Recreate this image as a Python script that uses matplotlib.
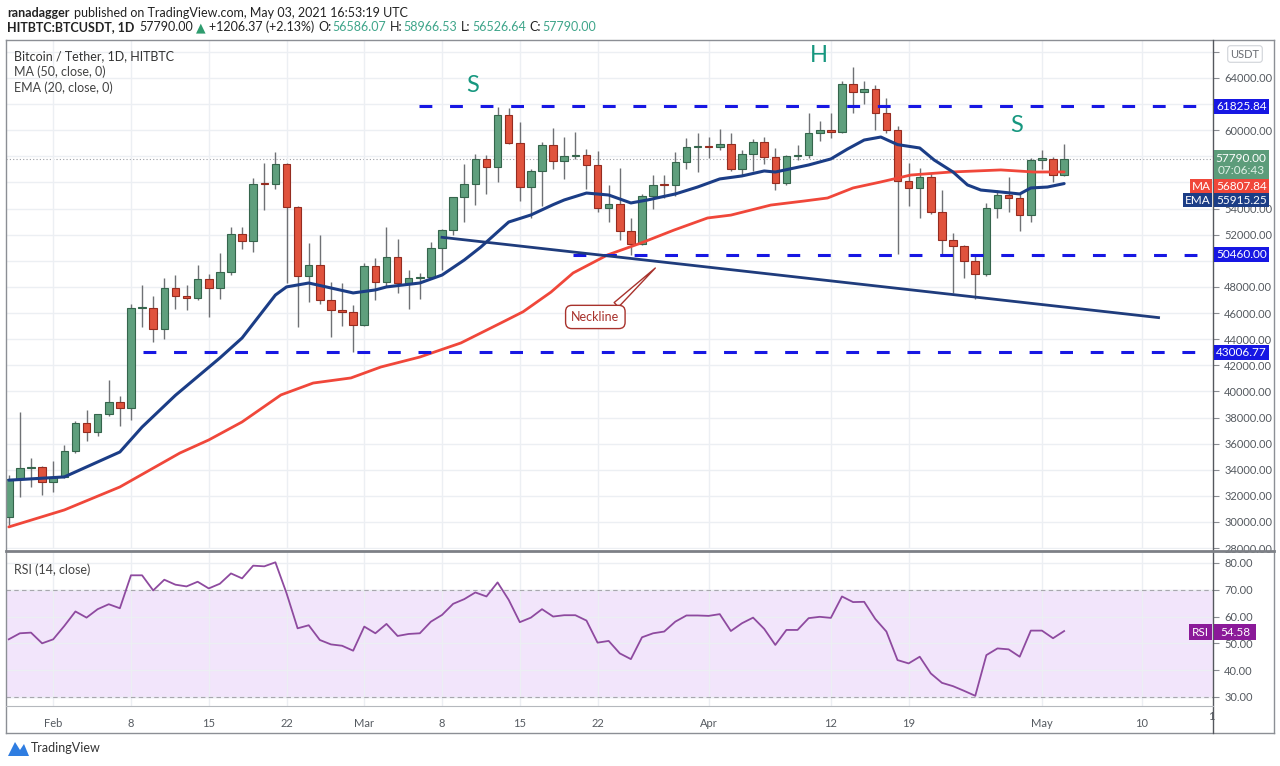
import numpy as np
import pandas as pd
import matplotlib
matplotlib.use('Agg')
import matplotlib.pyplot as plt
from matplotlib import font_manager
from matplotlib.patches import Rectangle, Polygon
from matplotlib.lines import Line2D
from matplotlib.ticker import FuncFormatter

# pick a narrow font if we have one
names = {f.name for f in font_manager.fontManager.ttflist}
base = 'Liberation Sans Narrow' if 'Liberation Sans Narrow' in names else 'Lato'
plt.rcParams['font.family'] = [base, 'DejaVu Sans']

# ---- data ----
dates = pd.date_range('2021-01-28', '2021-05-03', freq='D')

opens = [30370, 33300, 34150, 34230, 33050, 33450, 35400, 37600, 36900, 38250,
         39150, 38750, 46350, 46420, 44800, 47950, 47300, 47150, 48600, 47900,
         49150, 52050, 51500, 55900, 55850, 57400, 54100, 48850, 49700, 47000,
         46200, 46050, 45050, 49600, 48350, 50300, 48300, 48700, 48780, 50980,
         52350, 54880, 55850, 57800, 57200, 61190, 59000, 55650, 56900, 58900,
         57650, 58030, 58100, 57350, 54080, 54340, 52300, 51300, 55000, 55800,
         55780, 57600, 58700, 58730, 58720, 58950, 57050, 58200, 59100, 57950,
         55950, 58050, 58130, 59790, 60000, 59870, 63550, 62950, 63150, 61330,
         60000, 56150, 55600, 56450, 53700, 51600, 51100, 50000, 49000, 54050,
         55050, 54800, 53500, 57750, 57800, 56586]
highs = [33600, 38450, 34900, 34300, 34700, 35900, 37700, 38600, 38300, 40900,
         39650, 46700, 48150, 47300, 48700, 48950, 48150, 49700, 49000, 50600,
         52600, 52600, 56350, 57500, 58350, 57500, 54200, 51400, 52000, 48400,
         48300, 46600, 49800, 50200, 52600, 51700, 49300, 49100, 51450, 52400,
         54900, 57400, 58150, 58100, 61800, 61700, 60600, 57000, 59100, 60200,
         59500, 59900, 58600, 58400, 55800, 57100, 53300, 55100, 56600, 56550,
         58350, 59400, 59800, 59500, 60100, 59800, 58500, 59300, 59500, 58650,
         58100, 58900, 61300, 60700, 61300, 63800, 64850, 63800, 63500, 62500,
         60300, 57500, 57100, 56700, 55450, 52100, 51200, 50500, 54400, 55400,
         56400, 55100, 57900, 58500, 57950, 58966]
lows = [29800, 31900, 32700, 32100, 32300, 33400, 35300, 36200, 36600, 38100,
        37350, 37800, 44900, 43750, 44000, 46300, 46200, 47000, 45700, 47100,
        48900, 50900, 50700, 53900, 55500, 48300, 44900, 46850, 46700, 44200,
        45000, 43000, 45000, 47000, 48100, 47500, 46300, 47100, 48700, 49300,
        52000, 53000, 54300, 55100, 56000, 58950, 54600, 53300, 54200, 57000,
        56300, 57800, 55500, 53700, 53000, 51600, 50450, 51200, 53950, 54800,
        55000, 57000, 56800, 57900, 58500, 56900, 56600, 56900, 57400, 55400,
        55800, 57700, 57900, 59200, 59400, 59800, 61300, 62000, 60000, 59800,
        50500, 54200, 53300, 53600, 50500, 47500, 48700, 47100, 48800, 53300,
        53700, 52300, 53000, 57000, 56050, 56526]
closes = [33300, 34150, 34230, 33050, 33450, 35400, 37600, 36900, 38250, 39150,
          38750, 46350, 46420, 44800, 47950, 47300, 47150, 48600, 47900, 49150,
          52050, 51500, 55900, 55850, 57400, 54100, 48850, 49700, 47000, 46200,
          46050, 45050, 49600, 48350, 50300, 48300, 48700, 48780, 50980, 52350,
          54880, 55850, 57800, 57200, 61190, 59000, 55650, 56900, 58900, 57650,
          58030, 58100, 57350, 54080, 54340, 52300, 51300, 55000, 55800, 55780,
          57600, 58700, 58730, 58720, 58950, 57050, 58200, 59100, 57950, 55950,
          58050, 58130, 59790, 60000, 59870, 63550, 62950, 63150, 61330, 60000,
          56150, 55600, 56450, 53700, 51600, 51100, 50000, 49000, 54050, 55050,
          54800, 53500, 57750, 57800, 56600, 57790]

# EMA(20) and MA(50), sampled at day index
ema_days = [0, 5, 10, 12, 15, 19, 21, 24, 25, 27, 29, 31, 33, 34, 37, 39, 41, 42.5,
            44, 45, 47, 49, 50, 52, 54, 56, 57.5, 60, 62, 64, 66, 68, 69, 72, 74,
            75.5, 77, 78.5, 80, 82, 83.3, 85, 86.3, 87.5, 89.3, 91, 92, 93.5, 95]
ema_vals = [33200, 33450, 35360, 37270, 39700, 42560, 44090, 47380, 48000, 48300,
            47920, 47540, 47770, 48000, 48300, 48910, 50060, 51060, 52210, 52970,
            53510, 54300, 54660, 55190, 55040, 54430, 54660, 55120, 55650, 56270,
            56500, 56880, 56800, 57340, 57800, 58560, 59250, 59480, 58900, 58640,
            57720, 56800, 55810, 55420, 55270, 55120, 55580, 55650, 55915]
ma_days = [0, 5, 10, 15.4, 18, 21, 24.5, 27.4, 30.8, 33.5, 37, 40.7, 44.3, 46.3,
           48.8, 50.8, 53.9, 56.9, 59.9, 62.9, 65, 68.6, 71.6, 73.7, 76, 78.5,
           81.2, 84.8, 89.3, 92.3, 95]
ma_vals = [29620, 30920, 32680, 35280, 36280, 37660, 39730, 40640, 41030, 41870,
           42630, 43710, 45240, 46100, 47600, 49070, 50450, 51360, 52360, 53280,
           53500, 54270, 54580, 54810, 55580, 56040, 56570, 56800, 56960, 56800,
           56808]

rsi_vals = [51.5, 53.75, 54, 50, 51.5, 56.5, 61.9, 59.6, 62.75, 64.6,
            63.1, 75.4, 75.4, 69.75, 73.75, 71.9, 71.25, 73, 70.5, 72.25,
            76.1, 74.25, 79, 78.75, 80.25, 68.75, 55.6, 56.75, 51.25, 49.6,
            49.1, 47.25, 56.25, 53.75, 57.25, 52.75, 53.5, 53.75, 58.1, 60.6,
            64.75, 66.5, 69, 67.5, 72.75, 66.25, 57.9, 59.6, 62.75, 60,
            60.5, 60.5, 58.5, 50.25, 50.9, 46.25, 44.1, 52.25, 53.75, 54.4,
            58.1, 60.4, 60.4, 60.25, 60.9, 54.6, 57.5, 59.6, 55.4, 49.4,
            55, 55, 59.4, 59.9, 59.5, 67.5, 65.4, 65.5, 59.1, 54.4,
            43.75, 42.5, 45, 38.75, 35.25, 34, 32.25, 30.4, 45.6, 48.1,
            47.75, 45, 54.75, 54.75, 51.9, 54.58]

levels = [61825.84, 50460.00, 43006.77]
level_start = [36.9, 50.8, 12.1]
neck_days = [39, 103.5]
neck_vals = [51800, 45650]
last_price = 57790.00

price_ticks = list(range(28000, 66001, 2000))
hidden_ticks = [66000, 62000, 58000, 56000, 50000]   # sit under the scale badges
tick_days = [4, 11, 18, 25, 32, 39, 46, 53, 63, 74, 81, 93, 102]
tick_labels = ['Feb', '8', '15', '22', 'Mar', '8', '15', '22', 'Apr', '12', '19', 'May', '10']

# ---- figure ----
W, H = 1280, 766
fig = plt.figure(figsize=(W / 100, H / 100), dpi=100)
fig.patch.set_facecolor('white')

def fx(px):
    return px / W

def fy(py):
    return 1 - py / H

ax = fig.add_axes([fx(6), fy(549), fx(1213) - fx(6), fy(40) - fy(549)])
rax = fig.add_axes([fx(6), fy(706), fx(1213) - fx(6), fy(552) - fy(706)], sharex=ax)

up_fill, up_edge = '#5f9f7d', '#35654c'
dn_fill, dn_edge = '#e0533d', '#952c20'
wick = '#6f7175'
grid_c = '#eceff3'
lbl_c = '#555a60'
blue_lvl = '#1717e3'
ema_c = '#1b3d86'
ma_c = '#f0473a'
teal = '#16977f'

x = np.arange(len(dates))
o = np.array(opens); c = np.array(closes)
bull = c >= o
body_lo = np.minimum(o, c)
body_h = np.maximum(np.abs(c - o), 90)

ax.vlines(x, lows, highs, color=wick, lw=1, zorder=2)
ax.bar(x, body_h, bottom=body_lo, width=0.68,
       color=np.where(bull, up_fill, dn_fill),
       edgecolor=np.where(bull, up_edge, dn_edge), lw=0.8, zorder=3)

ax.plot(ma_days, ma_vals, color=ma_c, lw=2.0, zorder=4, solid_capstyle='round')
ax.plot(ema_days, ema_vals, color=ema_c, lw=2.2, zorder=5, solid_capstyle='round')
ax.plot(neck_days, neck_vals, color='#1f3c7c', lw=2.0, zorder=5)

xmax = 108.4
for lv, st in zip(levels, level_start):
    ax.plot([st, xmax], [lv, lv], color=blue_lvl, lw=2.2, dashes=(4.2, 5.8), zorder=4)
ax.axhline(last_price, color='#9a9ca3', lw=0.8, ls=(0, (1, 2)), zorder=1)

ax.set_xlim(-0.25, xmax)
ax.set_ylim(27930, 66910)
ax.set_yticks(price_ticks)
ax.yaxis.set_major_formatter(FuncFormatter(
    lambda v, p: '' if round(v) in hidden_ticks else f'{v:.2f}'))
ax.set_xticks(tick_days)
ax.grid(True, color=grid_c, lw=1, zorder=0)
ax.tick_params(axis='y', left=False, labelleft=False, right=True, labelright=True,
               length=4, color='#8a8d93', labelsize=8, labelcolor=lbl_c, pad=4)
ax.tick_params(axis='x', bottom=False, labelbottom=False)
for s in ax.spines.values():
    s.set_visible(False)

# pattern labels
ax.text(41.8, 63460, 'S', color=teal, fontsize=17, ha='center', va='center', zorder=6)
ax.text(72.9, 65750, 'H', color=teal, fontsize=17, ha='center', va='center', zorder=6)
ax.text(90.7, 60400, 'S', color=teal, fontsize=17, ha='center', va='center', zorder=6)

ax.annotate('Neckline', xy=(58.2, 49450), xytext=(52.8, 45700), color='#a8322c',
            fontsize=9, ha='center', va='center', zorder=7,
            bbox=dict(boxstyle='round,pad=0.45,rounding_size=0.5', fc='white', ec='#a8322c', lw=1),
            arrowprops=dict(arrowstyle='wedge,tail_width=0.5', fc='white', ec='#a8322c',
                            lw=1, relpos=(0.8, 1.0), shrinkA=0, shrinkB=0))

# ---- RSI panel ----
rax.axhspan(30, 70, color='#f2e5fb', zorder=0)
for lv in (30, 70):
    rax.axhline(lv, color='#a7a7ad', lw=0.8, ls=(0, (4, 3)), zorder=1)
rax.plot(x, rsi_vals, color='#8e4a9f', lw=1.3, zorder=3)
rax.set_ylim(26.6, 84.1)
rax.set_yticks(np.arange(30, 81, 10))
rax.yaxis.set_major_formatter(FuncFormatter(lambda v, p: f'{v:.2f}'))
rax.set_xticks(tick_days)
rax.set_xticklabels(tick_labels)
rax.grid(True, color=grid_c, lw=1, zorder=0)
rax.set_axisbelow(True)
rax.tick_params(axis='y', left=False, labelleft=False, right=True, labelright=True,
                length=4, color='#8a8d93', labelsize=8, labelcolor=lbl_c, pad=4)
rax.tick_params(axis='x', bottom=False, labelbottom=True, labelsize=8,
                labelcolor=lbl_c, pad=5)
for s in rax.spines.values():
    s.set_visible(False)

# ---- frame lines ----
def fline(x0, y0, x1, y1, c='#8c8f95', lw=1.0):
    fig.add_artist(Line2D([fx(x0), fx(x1)], [fy(y0), fy(y1)], color=c, lw=lw))

fline(6, 40, 1274, 40)
fline(6, 40, 6, 733)
fline(6, 733, 1274, 733)
fline(1274, 40, 1274, 733)
fline(1213, 40, 1213, 733, c='#55585e')
fline(6, 550.5, 1274, 550.5, c='#7d8086', lw=2.0)
fline(6, 706, 1213, 706, c='#b5b8bd', lw=0.8)
fig.text(fx(1211), fy(717), '1', fontsize=8, color=lbl_c, ha='center', va='center')

# ---- price scale badges ----
def badge(x0, x1, y0, y1, color, text, fs=8.5):
    fig.add_artist(Rectangle((fx(x0), fy(y1)), fx(x1) - fx(x0), fy(y0) - fy(y1),
                             transform=fig.transFigure, fc=color, ec='none', zorder=10))
    fig.text(fx((x0 + x1) / 2), fy((y0 + y1) / 2), text, color='white', fontsize=fs,
             ha='center', va='center', zorder=11)

badge(1214, 1269, 99, 114, blue_lvl, '61825.84')
badge(1214, 1269, 150, 179, '#5c9c7a', '')
fig.text(fx(1241), fy(158), '57790.00', color='white', fontsize=8.5, ha='center', va='center', zorder=11)
fig.text(fx(1241), fy(171), '07:06:43', color='#dff0e6', fontsize=8.5, ha='center', va='center', zorder=11)
badge(1190, 1212, 179, 193, ma_c, 'MA')
badge(1214, 1269, 179, 193, ma_c, '56807.84')
badge(1183, 1212, 193, 207, ema_c, 'EMA')
badge(1214, 1269, 193, 207, ema_c, '55915.25')
badge(1214, 1269, 247, 262, blue_lvl, '50460.00')
badge(1214, 1269, 345, 360, blue_lvl, '43006.77')
badge(1189, 1212, 624, 640, '#8b1a99', 'RSI')
badge(1214, 1256, 624, 640, '#8b1a99', '54.58')

fig.text(fx(1245), fy(54), 'USDT', color='#6a6d73', fontsize=8, ha='center', va='center', zorder=12,
         bbox=dict(boxstyle='round,pad=0.25', fc='white', ec='#d0d3d8', lw=0.8))

# ---- legend text in panes ----
fig.text(fx(14), fy(56), 'Bitcoin / Tether, 1D, HITBTC', fontsize=9, color='#333', va='center')
fig.text(fx(14), fy(72), 'MA (50, close, 0)', fontsize=9, color='#444', va='center')
fig.text(fx(14), fy(88), 'EMA (20, close, 0)', fontsize=9, color='#444', va='center')
fig.text(fx(14), fy(570), 'RSI (14, close)', fontsize=9, color='#444', va='center')

# ---- header ----
renderer = fig.canvas.get_renderer()

def chain(px, py, parts, fs=9):
    for s, col, wt, gap in parts:
        t = fig.text(fx(px), fy(py), s, color=col, fontweight=wt, fontsize=fs, va='center', ha='left')
        px += t.get_window_extent(renderer=renderer).width + gap

num_c = '#3fa58a'
chain(7, 13, [('ranadagger', '#222', 'bold', 4),
              ('published on TradingView.com, May 03, 2021 16:53:19 UTC', '#222', 'normal', 0)])
chain(7, 27, [('HITBTC:BTCUSDT, 1D', '#222', 'bold', 5),
              ('57790.00', '#222', 'normal', 3),
              ('\u25b2', '#2e9c6e', 'normal', 3),
              ('+1206.37 (+2.13%)', '#222', 'normal', 4),
              ('O:', '#222', 'normal', 1), ('56586.07', num_c, 'normal', 4),
              ('H:', '#222', 'normal', 1), ('58966.53', num_c, 'normal', 4),
              ('L:', '#222', 'normal', 1), ('56526.64', num_c, 'normal', 4),
              ('C:', '#222', 'normal', 1), ('57790.00', num_c, 'normal', 0)])

# TradingView logo
fig.add_artist(Polygon([[fx(8), fy(756)], [fx(15), fy(742)], [fx(20), fy(750)],
                        [fx(24), fy(744)], [fx(29), fy(756)]],
                       closed=True, transform=fig.transFigure, fc='#2f7de1', ec='none'))
fig.text(fx(31), fy(748), 'TradingView', fontsize=9, color='#333', va='center')

fig.savefig('out.png', dpi=100)
